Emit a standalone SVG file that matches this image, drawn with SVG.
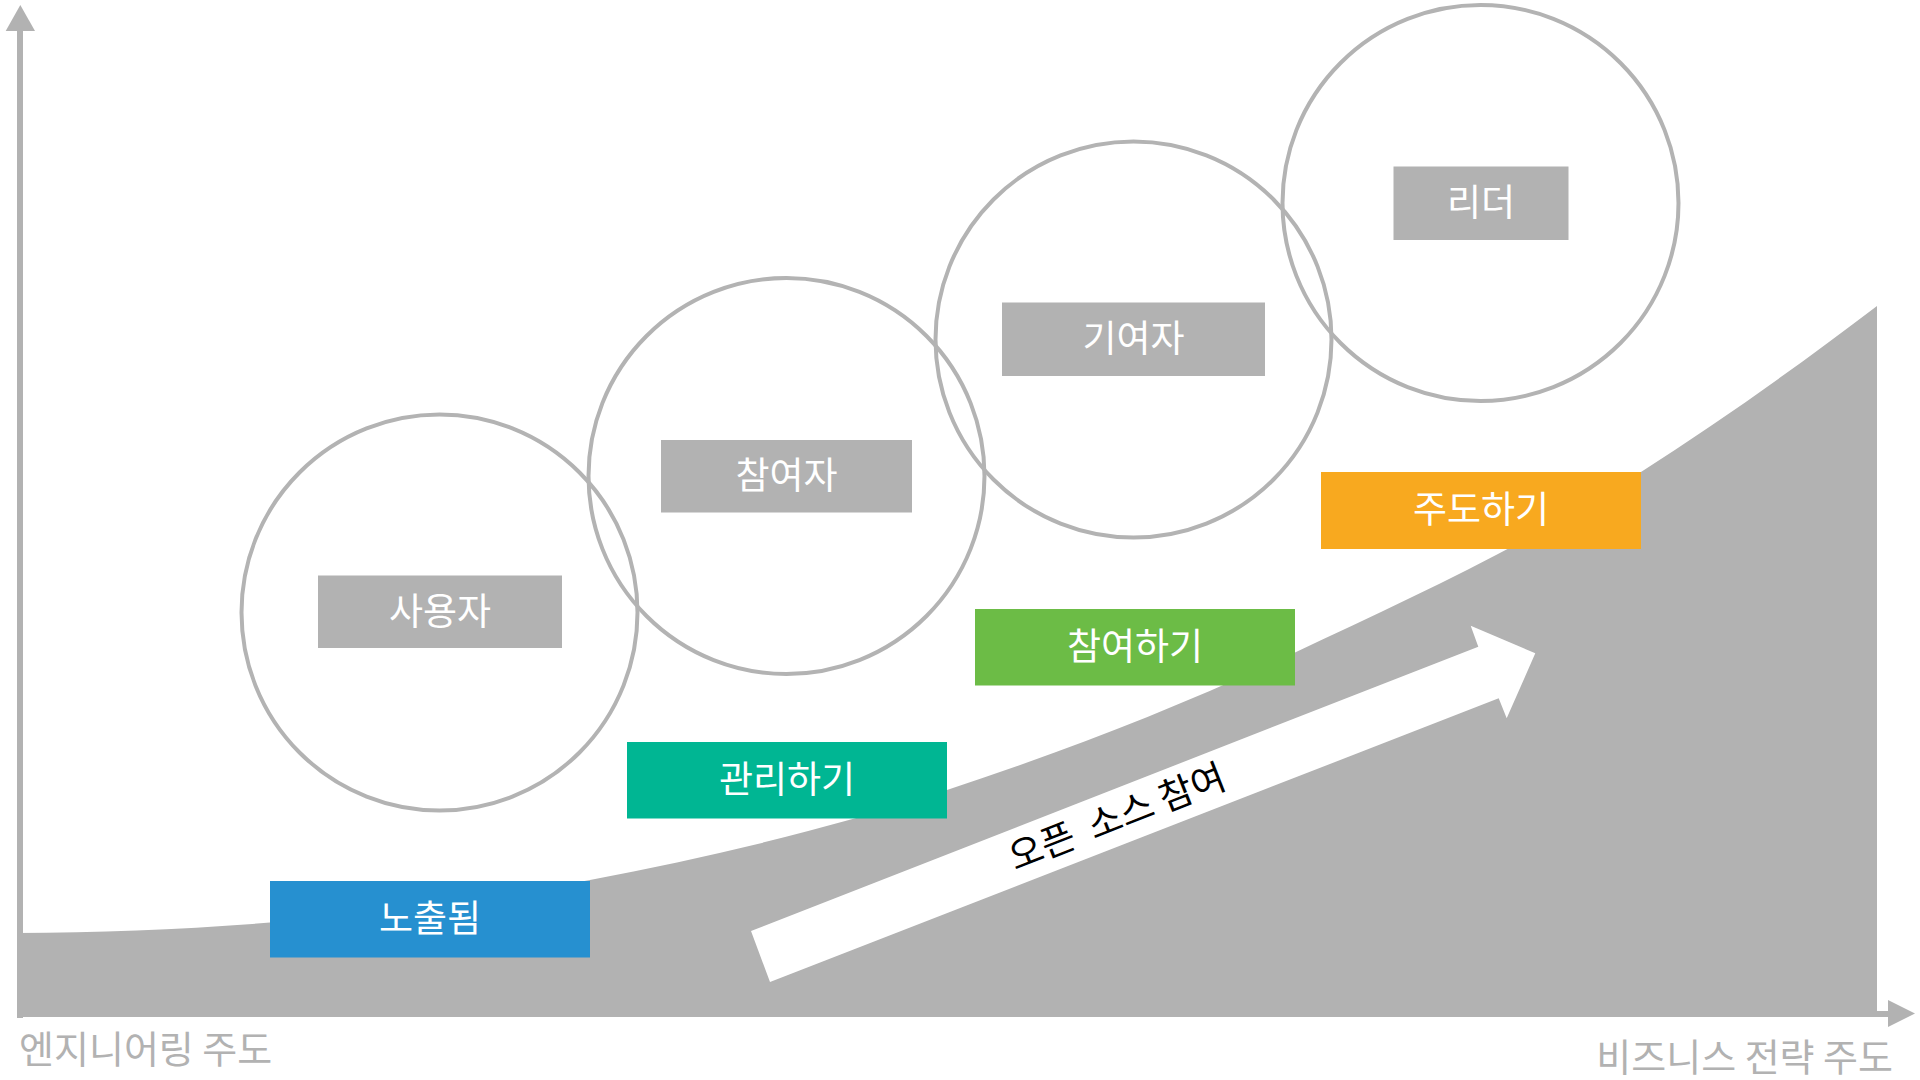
<svg xmlns="http://www.w3.org/2000/svg" width="1920" height="1080" viewBox="0 0 1920 1080">
<style>
.ring{fill:none;stroke:#b3b3b3;stroke-width:4}
.role{fill:#b2b2b2}
.lbl{font-family:"Noto Sans CJK KR","Noto Sans",sans-serif;font-size:37px;fill:#ffffff;text-anchor:middle}
.axis{font-family:"Noto Sans CJK KR","Noto Sans",sans-serif;font-size:38px;fill:#b2b2b2}
</style>
<rect width="1920" height="1080" fill="#ffffff"/>
<g id="area">
<path d="M17,933 C208,932 399,916.3 590,880 C709,857.4 828,829.3 947,790 C1062.7,751.8 1178.3,707.4 1294,653 C1409.7,598.6 1525.3,546 1641,472 C1719,422 1797,367 1877,306 L1877,1017 L17,1017 Z" fill="#b2b2b2"/>
</g>
<g id="axes">
<rect x="17" y="28" width="6" height="990" fill="#b2b2b2"/>
<polygon points="20.3,5 35,31 5.7,31" fill="#b2b2b2"/>
<rect x="1870" y="1011" width="20" height="6" fill="#b2b2b2"/>
<polygon points="1888,1000 1915,1013.5 1888,1027" fill="#b2b2b2"/>
</g>
<g id="connectors">
<polygon points="751,931 1478.3,646.7 1470.7,625.7 1535.3,653.3 1506.7,718.3 1498.7,698.3 770,982" fill="#ffffff"/>
<text transform="translate(1117,817) rotate(-21.4)" x="0" y="13" xml:space="preserve" style="font-family:'Noto Sans CJK KR','Noto Sans',sans-serif;font-size:37px;fill:#000000;text-anchor:middle">오픈  소스 참여</text>
</g>
<g id="circle-user"><circle class="ring" cx="439.5" cy="612.5" r="198"/></g>
<g id="circle-participant"><circle class="ring" cx="786.5" cy="476" r="198"/></g>
<g id="circle-contributor"><circle class="ring" cx="1133.5" cy="339.5" r="198"/></g>
<g id="circle-leader"><circle class="ring" cx="1480.5" cy="203" r="198"/></g>
<g id="role-user"><rect class="role" x="318" y="575.5" width="244" height="72.5"/><text class="lbl" x="440" y="625">사용자</text></g>
<g id="role-participant"><rect class="role" x="661" y="440" width="251" height="72.5"/><text class="lbl" x="786.5" y="489">참여자</text></g>
<g id="role-contributor"><rect class="role" x="1002" y="302.5" width="263" height="73.5"/><text class="lbl" x="1133.5" y="352">기여자</text></g>
<g id="role-leader"><rect class="role" x="1393.5" y="166.5" width="175" height="73.5"/><text class="lbl" x="1481" y="216">리더</text></g>
<g id="step-exposed"><rect x="270" y="881" width="320" height="76.5" fill="#2690d0"/><text class="lbl" x="430" y="932">노출됨</text></g>
<g id="step-manage"><rect x="627" y="742" width="320" height="76.5" fill="#00b693"/><text class="lbl" x="787" y="793">관리하기</text></g>
<g id="step-participate"><rect x="975" y="609" width="320" height="76.5" fill="#6cbc46"/><text class="lbl" x="1135" y="660">참여하기</text></g>
<g id="step-lead"><rect x="1321" y="472" width="320" height="77" fill="#f8a91f"/><text class="lbl" x="1481" y="523">주도하기</text></g>
<text class="axis" x="19" y="1063">엔지니어링 주도</text>
<text class="axis" x="1893" y="1071" text-anchor="end">비즈니스 전략 주도</text>
</svg>
